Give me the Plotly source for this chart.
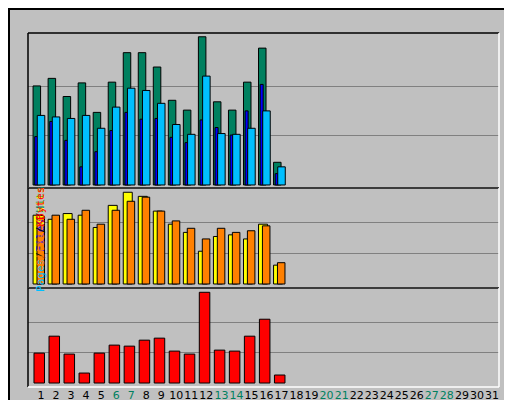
import plotly.graph_objects as go

days = list(range(1, 32))
d17 = list(range(1, 18))
hits = [131, 141, 117, 135, 96, 136, 175, 175, 156, 112, 99, 196, 110, 99, 136, 181, 30]
files = [92, 90, 88, 92, 75, 103, 128, 125, 108, 80, 67, 144, 68, 67, 75, 98, 24]
pages = [64, 84, 59, 24, 44, 72, 96, 87, 88, 63, 56, 86, 76, 66, 98, 133, 15]
visits = [84, 79, 86, 84, 69, 96, 112, 107, 89, 73, 63, 40, 58, 60, 55, 73, 23]
sites = [83, 84, 79, 90, 73, 90, 101, 106, 89, 77, 68, 55, 68, 63, 65, 71, 26]
kbytes = [850, 1331, 822, 283, 850, 1077, 1048, 1218, 1275, 907, 822, 2578, 935, 907, 1331, 1813, 227]
weekend = [6, 7, 13, 14, 20, 21, 27, 28]

W, H = 512, 400
def py(p):
    return 1 - p / H

fig = go.Figure()
line = dict(color="black", width=1)
def bar(y, color, off, wid, ya):
    fig.add_trace(go.Bar(x=d17, y=y, marker=dict(color=color, line=line),
                         offset=off, width=wid, xaxis="x", yaxis=ya, showlegend=False))

bar(hits, "#00805F", -0.53, 0.5, "y")
bar(pages, "#0000FF", -0.42, 0.2, "y")
bar(files, "#00BFFF", -0.25, 0.5, "y")
bar(visits, "#FFFF00", -0.53, 0.6, "y2")
bar(sites, "#FF8000", -0.27, 0.5, "y2")
bar(kbytes, "#FF0000", -0.47, 0.7, "y3")

xl, xr = 20 / W, 491 / W
def yax(lo, hi, rng, grid):
    return dict(domain=[py(hi), py(lo)], range=rng, tickvals=grid, showticklabels=False,
                showgrid=True, gridcolor="#808080", gridwidth=1, zeroline=False,
                anchor="x", ticks="", automargin=False)

tt = [f"<span style='color:{'#00805F' if d in weekend else 'black'}'>{d}</span>" for d in days]
fig.update_layout(
    width=W, height=H, margin=dict(l=0, r=0, t=0, b=0, autoexpand=False),
    paper_bgcolor="#C0C0C0", plot_bgcolor="#C0C0C0", barmode="overlay",
    xaxis=dict(domain=[xl, xr], range=[0.133, 31.47], tickvals=days, ticktext=tt,
               showgrid=False, zeroline=False, tickangle=0, automargin=False,
               tickfont=dict(family="DejaVu Sans", size=11, color="black"),
               ticks="", anchor="y3"),
    yaxis=yax(25, 180, [-4, 201], [196 / 3, 392 / 3]),
    yaxis2=yax(180, 280, [-4.9, 117.2], [112 / 3, 224 / 3]),
    yaxis3=yax(280, 379, [-113, 2700], [2578 / 3, 5156 / 3]),
    font=dict(family="DejaVu Sans Mono"),
)

shapes = [
    dict(type="rect", xref="paper", yref="paper", x0=1 / W, x1=1 - 5 / W, y0=py(395), y1=py(1),
         line=dict(color="black", width=2)),
    dict(type="line", xref="paper", yref="paper", x0=3 / W, x1=1 - 5 / W, y0=py(397), y1=py(397),
         line=dict(color="#808080", width=4)),
    dict(type="line", xref="paper", yref="paper", x0=1 - 3 / W, x1=1 - 3 / W, y0=py(397), y1=py(3),
         line=dict(color="#808080", width=4)),
]
for (t, b) in [(25, 180), (180, 280), (280, 379)]:
    shapes += [
        dict(type="line", xref="paper", yref="paper", x0=xl, x1=xr, y0=py(t), y1=py(t), line=dict(color="black", width=1.5)),
        dict(type="line", xref="paper", yref="paper", x0=xl, x1=xl, y0=py(t), y1=py(b), line=dict(color="black", width=1.5)),
        dict(type="line", xref="paper", yref="paper", x0=xl, x1=xr, y0=py(b), y1=py(b), line=dict(color="white", width=1.5)),
        dict(type="line", xref="paper", yref="paper", x0=xr, x1=xr, y0=py(t), y1=py(b), line=dict(color="white", width=1.5)),
    ]
fig.update_layout(shapes=shapes)

ann = [dict(text="<b>Daily usage for July 2013</b>", x=19 / W, y=py(15), xanchor="left", yanchor="middle",
            showarrow=False, font=dict(family="DejaVu Sans Mono", size=13, color="#0000FF"))]
for txt, top in [("196", 27), ("112", 180), ("2578", 282)]:
    ann.append(dict(text=txt, x=14 / W, y=py(top), xanchor="center", yanchor="top", textangle=-90,
                    showarrow=False, font=dict(family="DejaVu Sans", size=11, color="black")))
sl = "<span style='color:black'>/</span>"
labels = [
    (f"<span style='color:#00BFFF'>Pages</span>{sl}<span style='color:#0000FF'>Files</span>{sl}<span style='color:#00805F'>Hits</span>", 28),
    (f"<span style='color:#FF8000'>Sites</span>{sl}<span style='color:#FFFF00'>Visits</span>", 198),
    ("<span style='color:#FF0000'>KBytes</span>", 340),
]
for txt, top in labels:
    ann.append(dict(text=txt, x=500 / W, y=py(top), xanchor="center", yanchor="top", textangle=-90,
                    showarrow=False, font=dict(family="DejaVu Sans Mono", size=11)))
fig.update_layout(annotations=ann)
fig.write_html("out.html")
